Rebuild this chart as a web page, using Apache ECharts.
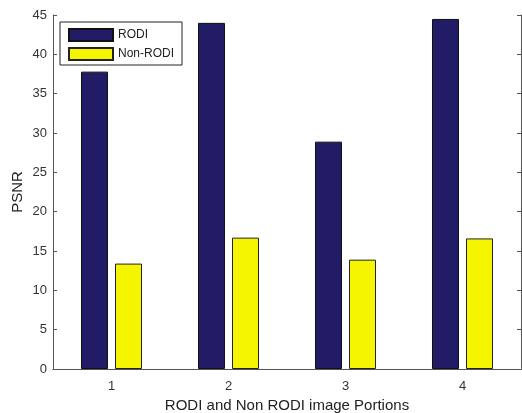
<!DOCTYPE html>
<html>
<head>
<meta charset="utf-8">
<script src="https://cdn.jsdelivr.net/npm/echarts@6/dist/echarts.min.js"></script>
<style>
  html, body { margin: 0; padding: 0; background: #fff; }
  #chart { width: 522px; height: 413px; }
</style>
</head>
<body>
<div id="chart"></div>
<script>
// data
var categories = ['1', '2', '3', '4'];
var rodi = [37.8, 44.0, 28.9, 44.5];
var nonRodi = [13.4, 16.7, 13.9, 16.6];

var chart = echarts.init(document.getElementById('chart'));
var axisGray = '#555';
var textGray = '#333';
var font = 'Liberation Sans';

var option = {
  animation: false,
  grid: { left: 53, top: 15, right: 1, bottom: 44, outerBoundsMode: 'none' },
  legend: {
    orient: 'vertical',
    left: 60, top: 22,
    padding: [6, 8, 4, 8],
    itemGap: 5,
    itemWidth: 44, itemHeight: 12,
    icon: 'rect',
    borderColor: '#222', borderWidth: 1,
    backgroundColor: '#fff',
    textStyle: { fontFamily: font, fontSize: 12, color: '#222' },
    data: ['RODI', 'Non-RODI']
  },
  xAxis: [{
    type: 'category',
    data: categories,
    name: 'RODI and Non RODI image Portions',
    nameLocation: 'middle',
    nameGap: 29,
    nameMoveOverlap: false,
    nameTextStyle: { fontFamily: font, fontSize: 15, color: '#222' },
    axisLine: { lineStyle: { color: axisGray } },
    axisTick: { alignWithLabel: true, inside: true, length: 4, lineStyle: { color: axisGray } },
    axisLabel: { fontFamily: font, fontSize: 13, color: textGray, margin: 11 }
  }, {
    type: 'category',
    data: categories,
    position: 'top',
    axisLine: { lineStyle: { color: axisGray } },
    axisTick: { alignWithLabel: true, inside: true, length: 4, lineStyle: { color: axisGray } },
    axisLabel: { show: false }
  }],
  yAxis: [{
    type: 'value',
    min: 0, max: 45, interval: 5,
    name: 'PSNR',
    nameLocation: 'middle',
    nameGap: 28,
    nameMoveOverlap: false,
    nameTextStyle: { fontFamily: font, fontSize: 15, color: '#222' },
    axisLine: { show: true, lineStyle: { color: axisGray } },
    axisTick: { show: true, inside: true, length: 4, lineStyle: { color: axisGray } },
    axisLabel: { fontFamily: font, fontSize: 13, color: textGray, margin: 6 },
    splitLine: { show: false }
  }, {
    type: 'value',
    min: 0, max: 45, interval: 5,
    position: 'right',
    axisLine: { show: true, lineStyle: { color: axisGray } },
    axisTick: { show: true, inside: true, length: 4, lineStyle: { color: axisGray } },
    axisLabel: { show: false },
    splitLine: { show: false }
  }],
  series: [{
    name: 'RODI',
    type: 'bar',
    data: rodi,
    barWidth: 27,
    barGap: '26%',
    itemStyle: { color: '#221c66', borderColor: '#111', borderWidth: 1 }
  }, {
    name: 'Non-RODI',
    type: 'bar',
    data: nonRodi,
    barWidth: 27,
    itemStyle: { color: '#f5f500', borderColor: '#222', borderWidth: 1 }
  }]
};
chart.setOption(option);
</script>
</body>
</html>
